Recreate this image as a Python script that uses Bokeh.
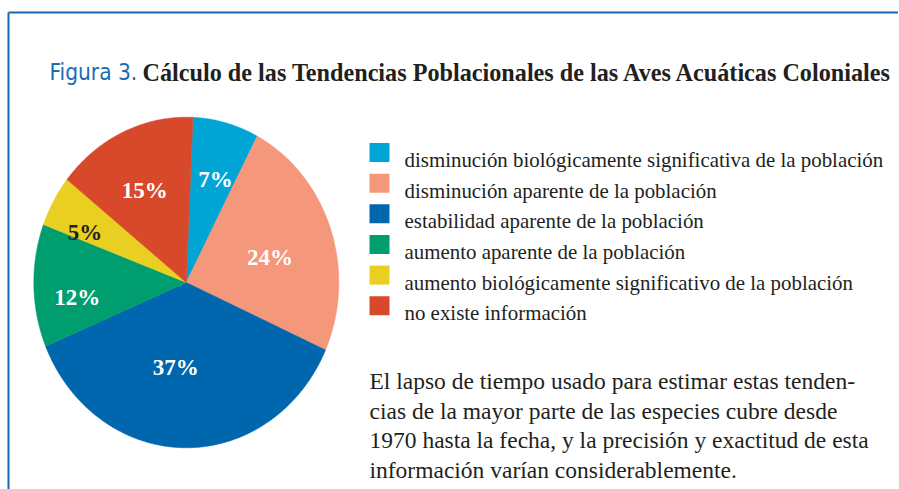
import numpy as np
from bokeh.plotting import figure
from bokeh.models import Range1d
from bokeh.core.properties import value
from bokeh.embed import file_html
from bokeh.resources import INLINE

# ---- data ----
categories = [
    "disminución biológicamente significativa de la población",
    "disminución aparente de la población",
    "estabilidad aparente de la población",
    "aumento aparente de la población",
    "aumento biológicamente significativo de la población",
    "no existe información",
]
percentages = [7, 24, 37, 12, 5, 15]
colors = ["#00A5D5", "#F4977B", "#0067AE", "#009E6F", "#E9CF22", "#D8482B"]
label_colors = ["white", "white", "white", "white", "#231F20", "white"]

title_fig = "Figura 3."
title_text = "Cálculo de las Tendencias Poblacionales de las Aves Acuáticas Coloniales"
paragraph = [
    "El lapso de tiempo usado para estimar estas tenden-",
    "cias de la mayor parte de las especies cubre desde",
    "1970 hasta la fecha, y la precisión y exactitud de esta",
    "información varían considerablemente.",
]

# ---- layout (pixel coords of the page image) ----
W, H = 898, 489
cx, cy = 186.8, 282.0
rx, ry = 152.5, 165.3
start_deg = 2.5
label_r = [0.65, 0.57, 0.52, 0.72, 0.73, 0.62]
label_dt = [2.0, 3.5, 7.0, -6.0, -5.0, -1.5]

p = figure(width=W, height=H, x_range=Range1d(1, 1 + W), y_range=Range1d(H, 0),
           output_backend="svg", toolbar_location=None, min_border=0,
           outline_line_color=None, background_fill_color="white")
p.axis.visible = False
p.grid.visible = False

# frame
p.segment(x0=[9, 9], y0=[12, 12], x1=[905, 9], y1=[12, 495],
          line_color="#1A68B0", line_width=2)

# pie slices (elliptical, clockwise from top)
total = float(sum(percentages))
xs, ys, lx, ly = [], [], [], []
acc = start_deg
for i, v in enumerate(percentages):
    span = 360.0 * v / total
    t = np.radians(np.linspace(acc, acc + span, max(8, int(span * 2))))
    xs.append([cx] + list(cx + rx * np.sin(t)))
    ys.append([cy] + list(cy - ry * np.cos(t)))
    mid = np.radians(acc + span / 2 + label_dt[i])
    lx.append(cx + rx * label_r[i] * np.sin(mid))
    ly.append(cy - ry * label_r[i] * np.cos(mid))
    acc += span

p.patches(xs=xs, ys=ys, fill_color=colors, line_color=colors, line_width=0.5)

p.text(x=lx, y=ly, text=[f"{v}%" for v in percentages], text_color=label_colors,
       text_font=value("Liberation Serif"), text_font_style="bold",
       text_font_size="23px", text_align="center", text_baseline="middle")

# legend
leg_y = [152.0 + 30.65 * i for i in range(len(categories))]
p.rect(x=[380] * len(categories), y=leg_y, width=20, height=19,
       fill_color=colors, line_color=None)
p.text(x=[405] * len(categories), y=[y + 7.5 for y in leg_y], text=categories,
       text_color="#231F20", text_font=value("Liberation Serif"),
       text_font_size="20.9px", text_align="left", text_baseline="alphabetic")

# titles
p.text(x=[50], y=[71], text=[title_fig], text_color="#1A6CB4",
       text_font=value("DejaVu Sans Condensed"), text_font_size="22.5px",
       text_align="left", text_baseline="alphabetic")
p.text(x=[143], y=[71.5], text=[title_text], text_color="#231F20",
       text_font=value("Liberation Serif"), text_font_style="bold",
       text_font_size="24.2px", text_align="left", text_baseline="alphabetic")

# paragraph
p.text(x=[370] * len(paragraph), y=[380.7 + 29.5 * i for i in range(len(paragraph))],
       text=paragraph, text_color="#231F20", text_font=value("Liberation Serif"),
       text_font_size="23.5px", text_align="left", text_baseline="alphabetic")

open("out.html", "w").write(file_html(p, INLINE))
